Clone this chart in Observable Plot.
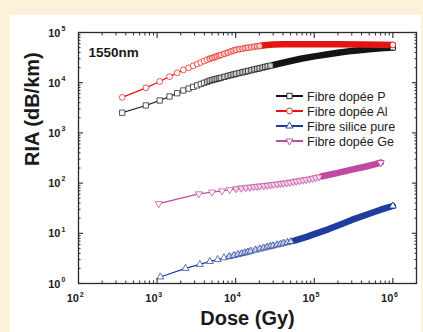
<!DOCTYPE html>
<html><head><meta charset="utf-8">
<script src="https://cdn.jsdelivr.net/npm/d3@7"></script>
<script src="https://cdn.jsdelivr.net/npm/@observablehq/plot@0.6"></script>
<style>
html,body{margin:0;padding:0;background:#fcf1d9;}
#wrap{position:relative;width:423px;height:332px;overflow:hidden;}
#panel{position:absolute;left:10px;top:15px;width:411px;height:317px;background:#fff;}
#chart{position:absolute;left:0;top:0;}
</style></head><body>
<div id="wrap"><div id="panel"></div><div id="chart"></div></div>
<script>
// ---- data ----
const seriesNames = ["Fibre dopée P", "Fibre dopée Al", "Fibre silice pure", "Fibre dopée Ge"];

const doseP = [360, 720, 1080, 1440, 1800, 2160, 2520, 2880, 3240, 3600, 3960, 4320, 4680, 5040, 5400, 5760, 6120, 6480, 7200, 7920, 8640, 9360, 10080, 11160, 12240, 13320, 14400, 15840, 17280, 18720, 20160, 21960, 23760, 25560, 27720, 30240, 40000, 50000, 70000, 100000, 150000, 200000, 300000, 500000, 700000, 1000000];
const riaP  = [2520, 3520, 4420, 5310, 6170, 7000, 7650, 8270, 8850, 9420, 9950, 10460, 10960, 11320, 11640, 11950, 12260, 12550, 13100, 13620, 14120, 14580, 15030, 15600, 16150, 16650, 17150, 17750, 18350, 18900, 19400, 20050, 20650, 21200, 21850, 22550, 25000, 27000, 30300, 33500, 37000, 39500, 43000, 46500, 48500, 50500];

const doseAl = [360, 720, 1080, 1440, 1800, 2160, 2520, 2880, 3240, 3600, 3960, 4320, 4680, 5040, 5400, 5760, 6120, 6480, 7200, 7920, 8640, 9360, 10080, 11160, 12240, 13320, 14400, 15840, 17280, 18720, 20160, 21960, 25000, 30000, 40000, 60000, 100000, 200000, 400000, 700000, 1000000];
const riaAl  = [5100, 7900, 10600, 13200, 15700, 18000, 19800, 21700, 23600, 25300, 27000, 28700, 29950, 31200, 32400, 33500, 34600, 35700, 37800, 39800, 41700, 43600, 45300, 46600, 47800, 48900, 49900, 51000, 52200, 53200, 54000, 55000, 56200, 57400, 58200, 58500, 58500, 58300, 57800, 57000, 56500];

const doseSi = [1100, 2300, 3500, 4700, 5900, 7100, 8300, 9500, 10700, 11900, 13100, 14300, 15500, 17900, 20300, 22700, 25100, 27500, 29900, 33500, 37100, 40700, 45500, 50300, 55100, 60000, 80000, 100000, 150000, 200000, 300000, 500000, 700000, 1000000];
const riaSi  = [1.35, 2.0, 2.4, 2.75, 3.0, 3.25, 3.45, 3.62, 3.8, 3.95, 4.1, 4.25, 4.4, 4.65, 4.9, 5.1, 5.3, 5.5, 5.65, 5.9, 6.1, 6.35, 6.6, 6.85, 7.1, 7.4, 8.5, 9.6, 12, 14.3, 18.5, 24.5, 29.5, 35];

const doseGe = [1050, 3400, 5000, 6700, 8400, 10100, 11800, 13500, 15200, 16900, 18600, 20300, 22800, 25300, 27800, 30300, 33700, 37100, 40500, 44700, 48900, 53900, 59000, 64900, 71600, 78300, 86700, 95100, 104000, 115000, 126000, 140000, 200000, 300000, 400000, 500000, 600000, 700000];
const riaGe  = [39, 61, 66, 70, 74, 77, 79, 81, 82.5, 84, 85.5, 87, 88.5, 90, 92, 93.5, 95.5, 97.5, 99, 101, 103, 106, 108.5, 111, 114, 117, 120, 124, 128, 132, 137, 142, 160, 186, 205, 222, 238, 255];

const xTicks = [1e2, 1e3, 1e4, 1e5, 1e6];
const xTickExp = ["2", "3", "4", "5", "6"];
const yTicks = [1, 10, 100, 1e3, 1e4, 1e5];
const yTickExp = ["0", "1", "2", "3", "4", "5"];
const annotation = "1550nm";
const xTitle = "Dose (Gy)";
const yTitle = "RIA (dB/km)";

// ---- styles ----
const triDown = {
  draw(ctx, size) {
    const y = Math.sqrt(size / (Math.sqrt(3) * 3));
    ctx.moveTo(0, 2 * y);
    ctx.lineTo(-Math.sqrt(3) * y, -y);
    ctx.lineTo(Math.sqrt(3) * y, -y);
    ctx.closePath();
  }
};
const styles = [
  {color: "#141414", symbol: "square", r: 3.0, pale: 4000, band: 30000},
  {color: "#e3150f", symbol: "circle", r: 2.9, pale: 4500, band: 21960},
  {color: "#1e3d9e", symbol: "triangle", r: 2.6, pale: 8000, band: 55100},
  {color: "#c04a9f", symbol: triDown, r: 2.6, pale: 9000, band: 126000}
];
const doses = [doseP, doseAl, doseSi, doseGe];
const rias = [riaP, riaAl, riaSi, riaGe];
const series = seriesNames.map((name, k) => ({
  name, ...styles[k],
  rows: doses[k].map((d, i) => ({dose: d, ria: rias[k][i], series: name}))
}));

// minor ticks (axis decoration)
const xMinor = [], yMinor = [];
for (const dec of [1e2, 1e3, 1e4, 1e5, 1e6]) for (let m = 2; m <= 9; m++) if (dec * m < 2e6) xMinor.push(dec * m);
for (const dec of [1, 10, 100, 1e3, 1e4]) for (let m = 2; m <= 9; m++) yMinor.push(dec * m);

const axisCol = "#2a2a2a";
const marks = [];
// connecting lines and dense bands
for (const s of series) {
  marks.push(Plot.line(s.rows, {x: "dose", y: "ria", stroke: s.color, strokeWidth: 1.2}));
  marks.push(Plot.line(s.rows.filter(r => r.dose >= s.band), {x: "dose", y: "ria", stroke: s.color, strokeWidth: 6.5, strokeLinecap: "round"}));
}
// hollow markers
for (const s of series) {
  marks.push(Plot.dot(s.rows.filter(r => r.dose < s.band), {x: "dose", y: "ria", symbol: () => s.symbol, r: s.r, fill: "white", stroke: s.color, strokeWidth: 0.9, strokeOpacity: 0.8}));
  // pale overlay where the markers crowd together
  marks.push(Plot.line(s.rows.filter(r => r.dose >= s.pale && r.dose <= s.band), {x: "dose", y: "ria", stroke: s.color, strokeWidth: 6.5, strokeOpacity: 0.22}));
  marks.push(Plot.dot(s.rows.slice(-1), {x: "dose", y: "ria", symbol: () => s.symbol, r: s.r, fill: "white", stroke: s.color, strokeWidth: 0.9}));
}
// frame + ticks (inside, all four sides)
marks.push(Plot.frame({stroke: axisCol, strokeWidth: 1.3}));
for (const anchor of ["bottom", "top"]) {
  marks.push(Plot.axisX(xTicks, {anchor, tickSize: -5, fill: "none", label: null, stroke: axisCol, strokeWidth: 1.1}));
  marks.push(Plot.axisX(xMinor, {anchor, tickSize: -2.5, fill: "none", label: null, stroke: axisCol, strokeWidth: 1}));
}
for (const anchor of ["left", "right"]) {
  marks.push(Plot.axisY(yTicks, {anchor, tickSize: -5, fill: "none", label: null, stroke: axisCol, strokeWidth: 1.1}));
  marks.push(Plot.axisY(yMinor, {anchor, tickSize: -2.5, fill: "none", label: null, stroke: axisCol, strokeWidth: 1}));
}
// tick labels "10" + exponent
marks.push(Plot.text(xTicks, {x: d => d, text: () => "10", frameAnchor: "bottom", textAnchor: "end", dx: 0.5, dy: 15, lineAnchor: "middle", fontSize: 11, fontWeight: "bold", fill: "#222"}));
marks.push(Plot.text(xTicks, {x: d => d, text: (d, i) => xTickExp[i], frameAnchor: "bottom", textAnchor: "start", dx: 1.2, dy: 11, lineAnchor: "middle", fontSize: 7, fontWeight: "bold", fill: "#222"}));
marks.push(Plot.text(yTicks, {y: d => d, text: () => "10", frameAnchor: "left", textAnchor: "end", dx: -18, dy: 0.5, lineAnchor: "middle", fontSize: 11, fontWeight: "bold", fill: "#222"}));
marks.push(Plot.text(yTicks, {y: d => d, text: (d, i) => yTickExp[i], frameAnchor: "left", textAnchor: "start", dx: -17, dy: -4, lineAnchor: "middle", fontSize: 7, fontWeight: "bold", fill: "#222"}));
// titles & annotation
marks.push(Plot.text([xTitle], {text: d => d, frameAnchor: "bottom", dy: 35, lineAnchor: "middle", fontSize: 20, fontWeight: "bold", fill: "#1a1a1a"}));
marks.push(Plot.text([yTitle], {text: d => d, frameAnchor: "left", dx: -46, dy: 8, rotate: -90, lineAnchor: "middle", fontSize: 20, fontWeight: "bold", fill: "#1a1a1a"}));
marks.push(Plot.text([annotation], {text: d => d, frameAnchor: "top-left", dx: 10, dy: 20.5, textAnchor: "start", lineAnchor: "middle", fontSize: 13.5, fontWeight: "bold", fill: "#1a1a1a"}));

const chart = Plot.plot({
  width: 423, height: 332,
  marginLeft: 78, marginRight: 7, marginTop: 32, marginBottom: 49,
  x: {type: "log", domain: [1e2, 2e6], axis: null},
  y: {type: "log", domain: [1, 1e5], axis: null},
  style: {background: "transparent", fontFamily: "'Liberation Sans', Arial, Helvetica, sans-serif", overflow: "visible"},
  marks
});
document.getElementById("chart").appendChild(chart);

// legend (inside the plot, upper right)
const svg = d3.select(chart);
const lg = svg.append("g").attr("font-family", "'Liberation Sans', Arial, sans-serif").attr("font-size", 12.5).attr("text-anchor", "start");
series.forEach((s, i) => {
  const y = 96 + i * 15;
  const g = lg.append("g");
  g.append("line").attr("x1", 276).attr("x2", 303).attr("y1", y).attr("y2", y).attr("stroke", s.color).attr("stroke-width", 2);
  const sym = typeof s.symbol === "string" ? d3["symbol" + s.symbol[0].toUpperCase() + s.symbol.slice(1)] : s.symbol;
  g.append("path").attr("d", d3.symbol(sym, Math.PI * s.r * s.r)()).attr("transform", `translate(289.5,${y})`).attr("fill", "white").attr("stroke", s.color).attr("stroke-width", 0.9);
  g.append("text").attr("x", 307).attr("y", y).attr("dy", "0.36em").attr("text-anchor", "start").attr("fill", "#222").text(s.name);
});
</script>
</body></html>
